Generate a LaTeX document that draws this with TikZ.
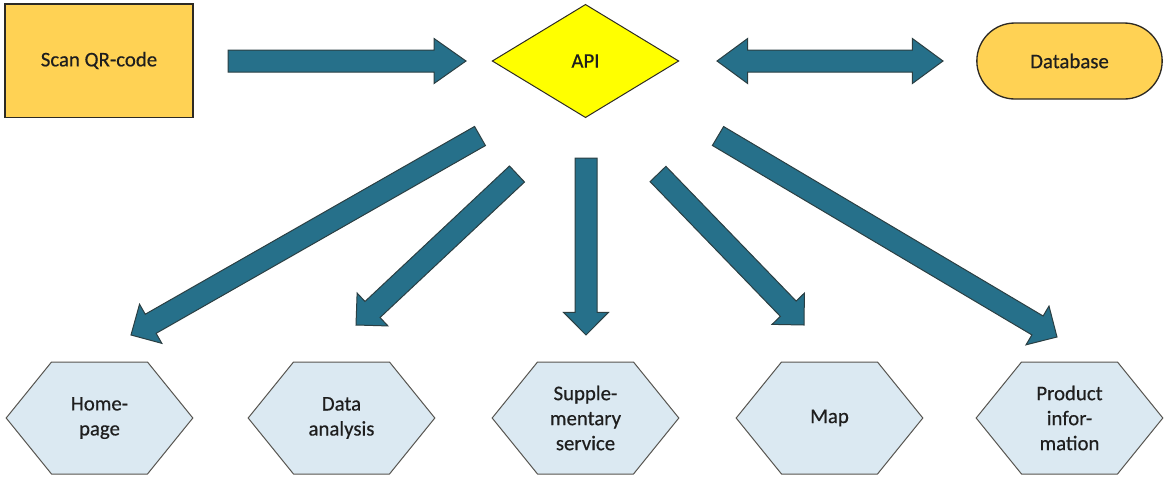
\documentclass[tikz,border=0pt]{standalone}
\usepackage{fontspec}
\setmainfont{Carlito}[FakeBold=0.5]
\usetikzlibrary{calc,shapes.geometric,shapes.symbols}

\definecolor{boxgold}{RGB}{255,210,84}
\definecolor{apiyellow}{RGB}{255,255,0}
\definecolor{arrowteal}{RGB}{38,112,138}
\definecolor{hexblue}{RGB}{219,233,242}
\definecolor{edgedark}{RGB}{45,42,36}
\definecolor{textdark}{RGB}{30,30,30}

\tikzset{every picture/.style={line width=0.75pt}}
\tikzset{
  label font/.style={font=\fontsize{15.6pt}{18.75pt}\selectfont, text=textdark, align=center},
  startbox/.style={label font, draw=edgedark, fill=boxgold, line width=1pt, inner sep=0pt, minimum width=141pt, minimum height=85pt},
  apidiamond/.style={label font, diamond, draw=edgedark, fill=apiyellow, inner sep=0pt, minimum width=140pt, minimum height=85pt},
  dbbox/.style={label font, draw=edgedark, fill=boxgold, line width=1pt, rounded corners=28.5pt, inner sep=0pt, minimum width=139pt, minimum height=57pt},
  hexbox/.style={label font, signal, signal to=east and west, signal pointer angle=102, draw=edgedark!80, fill=hexblue, inner sep=0pt, minimum width=140pt, minimum height=84pt},
  barrow/.style={draw=edgedark!70!arrowteal, fill=arrowteal, line width=0.75pt, line join=miter}
}

% block arrow: #1 head length, #2 tail, #3 tip
\newcommand{\blockarrow}[3][17pt]{%
  \coordinate (ba-c) at ($(#3)!#1!(#2)$);
  \draw[barrow] ($(#2)!8.25pt!90:(#3)$) -- ($(ba-c)!8.25pt!90:(#3)$) -- ($(ba-c)!16.9pt!90:(#3)$) -- (#3)
    -- ($(ba-c)!16.9pt!-90:(#3)$) -- ($(ba-c)!8.25pt!-90:(#3)$) -- ($(#2)!8.25pt!-90:(#3)$) -- cycle;
}
% block arrow with a head at both ends
\newcommand{\dblockarrow}[3][23pt]{%
  \coordinate (ba-a) at ($(#2)!#1!(#3)$);
  \coordinate (ba-b) at ($(#3)!#1!(#2)$);
  \draw[barrow] (#2) -- ($(ba-a)!16.9pt!90:(#3)$) -- ($(ba-a)!8.25pt!90:(#3)$) -- ($(ba-b)!8.25pt!90:(#3)$)
    -- ($(ba-b)!16.9pt!90:(#3)$) -- (#3) -- ($(ba-b)!16.9pt!-90:(#3)$) -- ($(ba-b)!8.25pt!-90:(#3)$)
    -- ($(ba-a)!8.25pt!-90:(#3)$) -- ($(ba-a)!16.9pt!-90:(#3)$) -- cycle;
}

\begin{document}
\begin{tikzpicture}[x=0.75pt,y=0.75pt,yscale=-1]
\useasboundingbox (0,0) rectangle (1168,476);

% top row
\node[startbox] (scan) at (99,60.5) {Scan QR-code};
\node[apidiamond] (api) at (585.5,61) {API};
\node[dbbox] (db) at (1069.5,61) {Database};

% bottom row
\node[hexbox] (home) at (99.5,418) {Home-\\page};
\node[hexbox] (data) at (341.5,418) {Data\\analysis};
\node[hexbox] (supp) at (585.5,418) {Supple-\\mentary\\service};
\node[hexbox] (map) at (829.5,418) {Map};
\node[hexbox] (prod) at (1069.5,418) {Product\\infor-\\mation};

% arrow ends
\coordinate (scanout) at (228,61);
\coordinate (apiin) at (466,61);
\coordinate (apiright) at (717,61);
\coordinate (dbleft) at (943,61);
\coordinate (t-home) at (480,136);
\coordinate (h-home) at (131,335);
\coordinate (t-data) at (517,174);
\coordinate (h-data) at (356,325);
\coordinate (t-supp) at (586,158);
\coordinate (h-supp) at (586,335);
\coordinate (t-map) at (658,174);
\coordinate (h-map) at (804,325);
\coordinate (t-prod) at (718,136);
\coordinate (h-prod) at (1057,337);

% arrows
\blockarrow[24pt]{scanout}{apiin}
\dblockarrow{apiright}{dbleft}
\blockarrow{t-home}{h-home}
\blockarrow{t-data}{h-data}
\blockarrow{t-supp}{h-supp}
\blockarrow{t-map}{h-map}
\blockarrow{t-prod}{h-prod}

\end{tikzpicture}
\end{document}
